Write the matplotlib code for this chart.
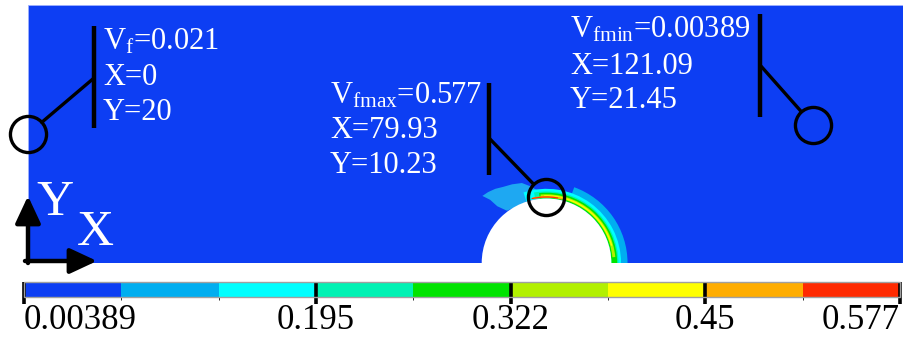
import matplotlib
matplotlib.use("Agg")
import matplotlib.pyplot as plt
from matplotlib.patches import Rectangle, Circle, Wedge, Polygon, FancyArrowPatch
from matplotlib.colors import ListedColormap, BoundaryNorm
from matplotlib.cm import ScalarMappable

plt.rcParams["font.family"] = ["Liberation Serif", "DejaVu Serif"]
plt.rcParams["mathtext.fontset"] = "custom"
plt.rcParams["mathtext.rm"] = "Liberation Serif"
plt.rcParams["mathtext.it"] = "Liberation Serif:italic"

# ---- data -------------------------------------------------------------
# contour levels of the volume fraction and their colours
levels = [0.00389, 0.0676, 0.1313, 0.195, 0.2587, 0.322, 0.386, 0.45, 0.5133, 0.577]
level_colors = ["#0d3ef3", "#00aef0", "#00ffff", "#00f2b4", "#00e400",
                "#b2f000", "#ffff00", "#ffad00", "#ff2a00"]
tick_values = [0.00389, 0.195, 0.322, 0.45, 0.577]
tick_labels = ["0.00389", "0.195", "0.322", "0.45", "0.577"]

# domain and cylinder
domain_w, domain_h = 135.0, 40.0
hole_x, hole_y, hole_r = 80.0, 0.0, 10.0

# ring bands around the cylinder: level index, inner/outer radius, start/end angle (deg)
band_level = [1, 2, 3, 4, 5, 6, 7, 8]
band_r_in = [10.0, 10.0, 10.0, 10.0, 10.2, 10.3, 10.12, 10.15]
band_r_out = [12.5, 11.5, 11.1, 10.9, 10.65, 10.5, 10.38, 10.32]
band_t1 = [0, 0, 0, 0, 5, 15, 76, 80]
band_t2 = [70, 108, 100, 96, 95, 92, 102, 103]

# light-blue patch on the upstream side of the cylinder top
blob_x = [70.1, 71.0, 72.1, 73.3, 74.7, 76.2, 77.5, 78.5, 79.8, 78.2, 75.9, 73.9, 72.4, 71.3]
blob_y = [10.4, 11.0, 11.5, 11.8, 12.2, 12.4, 11.9, 11.3, 11.0, 10.1, 9.0, 8.1, 8.8, 9.8]

# probe points
probe_x = [0.0, 79.93, 121.09]
probe_y = [20.0, 10.23, 21.45]
probe_names = ["f", "fmax", "fmin"]
probe_vals = ["0.021", "0.577", "0.00389"]

# ---- figure -----------------------------------------------------------
W, H = 905, 345
fig = plt.figure(figsize=(W / 100, H / 100), dpi=100)
fig.patch.set_facecolor("white")

ax_l, ax_r, ax_t, ax_b = 28, 903, 5, 263
ax = fig.add_axes([ax_l / W, (H - ax_b) / H, (ax_r - ax_l) / W, (ax_b - ax_t) / H])
ax.set_xlim(0, domain_w)
ax.set_ylim(0, domain_h)
ax.axis("off")


def at(px, py):
    """image pixel position -> domain coordinates"""
    return ((px - ax_l) / (ax_r - ax_l) * domain_w,
            (ax_b - py) / (ax_b - ax_t) * domain_h)


ax.add_patch(Rectangle((0, 0), domain_w, domain_h, facecolor=level_colors[0],
                       edgecolor="#9fb0ff", lw=0.6, zorder=0))
ax.add_patch(Polygon(list(zip(blob_x, blob_y)), closed=True,
                     facecolor="#1ea8f2", edgecolor="none", zorder=1))
for lv, ri, ro, t1, t2 in zip(band_level, band_r_in, band_r_out, band_t1, band_t2):
    ax.add_patch(Wedge((hole_x, hole_y), ro, t1, t2, width=ro - ri,
                       facecolor=level_colors[lv], edgecolor="none", zorder=2))
ax.add_patch(Circle((hole_x, hole_y), hole_r, facecolor="white",
                    edgecolor="none", zorder=3))

# probe annotations: marker, leader, bar and text block
bar_px = [94, 489, 760]
bar_top = [26, 83, 14]
bar_bot = [128, 175, 117]
joint_py = [78, 138, 65]
text_px = [103, 330, 570]
text_base = [[49, 85, 120], [103, 138, 173], [37, 74, 108]]

for i in range(3):
    x, y = probe_x[i], probe_y[i]
    ax.plot([x], [y], "o", ms=26, mfc="none", mec="black", mew=2.4,
            clip_on=False, zorder=6)
    bx, by1 = at(bar_px[i], bar_top[i])
    _, by2 = at(bar_px[i], bar_bot[i])
    ax.plot([bx, bx], [by1, by2], color="black", lw=3.2,
            solid_capstyle="butt", zorder=6)
    ax.annotate("", xy=(x, y), xytext=at(bar_px[i], joint_py[i]),
                arrowprops=dict(arrowstyle="-", lw=2.4, color="black",
                                shrinkA=0, shrinkB=13), zorder=6)
    lines = [r"$\mathrm{V_{%s}}$=%s" % (probe_names[i], probe_vals[i]),
             "X=%g" % x, "Y=%g" % y]
    for txt, base in zip(lines, text_base[i]):
        ax.text(*at(text_px[i], base), txt, color="white", fontsize=22,
                ha="left", va="baseline", zorder=7)

# coordinate triad
arrow_kw = dict(arrowstyle="-|>,head_length=0.75,head_width=0.35", lw=3.2,
                color="black", mutation_scale=22, shrinkA=0, shrinkB=0)
fig.add_artist(FancyArrowPatch(
    (28 / W, (H - 263) / H), (28 / W, (H - 196) / H),
    transform=fig.transFigure, **arrow_kw))
fig.add_artist(FancyArrowPatch(
    (25 / W, (H - 261) / H), (97 / W, (H - 261) / H),
    transform=fig.transFigure, **arrow_kw))
fig.text(36 / W, (H - 215) / H, "Y", fontsize=37, color="white",
         ha="left", va="baseline")
fig.text(77 / W, (H - 245) / H, "X", fontsize=37, color="white",
         ha="left", va="baseline")

# colour bar
cax = fig.add_axes([24 / W, (H - 297) / H, 876 / W, 15 / H])
cmap = ListedColormap(level_colors)
norm = BoundaryNorm(levels, cmap.N)
cb = fig.colorbar(ScalarMappable(norm=norm, cmap=cmap), cax=cax,
                  orientation="horizontal", ticks=tick_values)
cb.outline.set_edgecolor("#a0a0a0")
cb.outline.set_linewidth(1.0)
cax.tick_params(axis="x", length=0, pad=5, labelsize=25)
cax.set_xticklabels(tick_labels)
labs = cax.get_xticklabels()
labs[0].set_ha("left")
labs[-1].set_ha("right")
cax.vlines(tick_values, -0.47, 1.0, transform=cax.get_xaxis_transform(),
           colors="black", lw=2.6, clip_on=False)

fig.savefig("out.png", dpi=100)
